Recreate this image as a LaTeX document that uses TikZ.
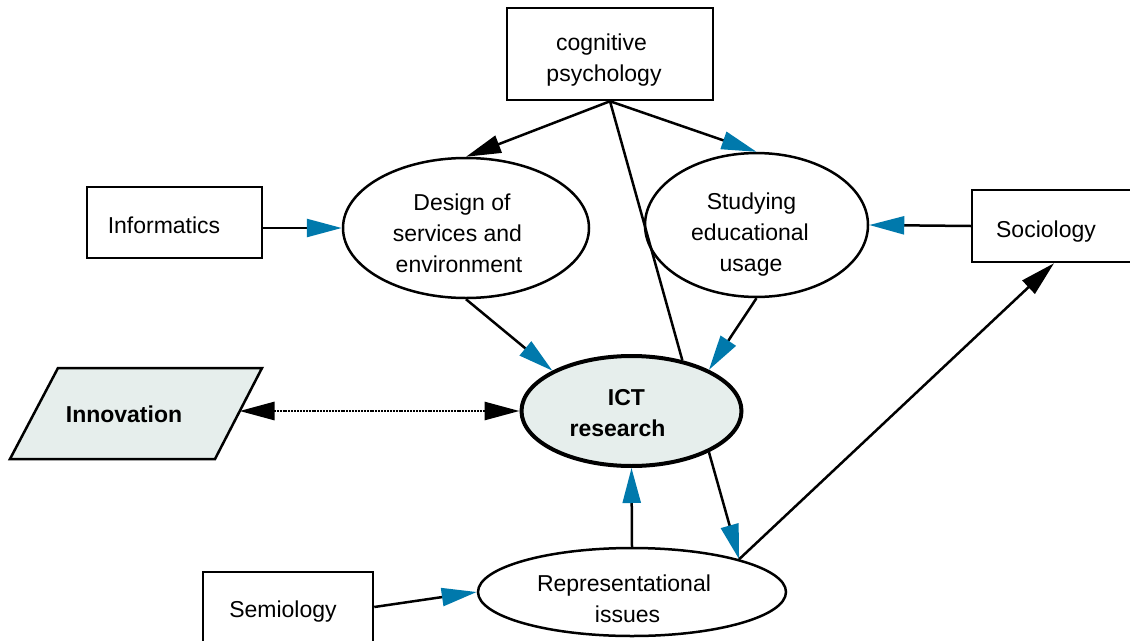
\documentclass[tikz,border=0pt]{standalone}
\usepackage{fontspec}
\setmainfont{Liberation Sans}
\usetikzlibrary{arrows.meta,shapes.geometric}
\definecolor{tipblue}{RGB}{0,121,172}
\definecolor{ictfill}{RGB}{230,238,236}
\newcommand{\lsh}[1]{\hspace*{-#1}}
\newcommand{\vsh}[1]{\rule{0pt}{#1}}
\begin{document}
\begin{tikzpicture}[x=1pt,y=-1pt,
  font=\fontsize{23}{31}\selectfont,
  box/.style={draw,line width=2.5pt,inner sep=0pt},
  ell/.style={draw,ellipse,line width=2.5pt,inner sep=0pt,align=center},
  con/.style={line width=2.5pt},
  bt/.style={con,-{Triangle[length=35pt,width=18pt,color=tipblue]}},
  kt/.style={con,-{Triangle[length=35pt,width=18pt]}},
  dotline/.style={line width=2.8pt,dash pattern=on 2pt off 0.9pt,
    {Triangle[length=35pt,width=18pt]}-{Triangle[length=35pt,width=18pt]}}]
\useasboundingbox (0,0) rectangle (1130,640);

% boxes
\node[box,align=center,minimum width=206pt,minimum height=92pt] (cog) at (610,54)
  {\vsh{28pt}\lsh{17pt}cognitive\\\lsh{12pt}psychology};
\node[box,minimum width=175pt,minimum height=71pt] (info) at (174.5,222.5) {\vsh{23pt}\lsh{21pt}Informatics};
\node[box,minimum width=164pt,minimum height=72pt] (soc) at (1054,226) {\vsh{27pt}Sociology\hspace*{16pt}};
\node[box,minimum width=170pt,minimum height=70pt] (sem) at (288,607) {\vsh{25pt}Semiology\hspace*{10pt}};

% ellipses
\node[ell,minimum width=246pt,minimum height=140pt] (design) at (466,228)
  {\vsh{27pt}\lsh{8pt}Design of\\\lsh{17pt}services and\\\lsh{14pt}environment};
\node[ell,minimum width=223pt,minimum height=140pt] (stud) at (756.5,225)
  {\vsh{35pt}\lsh{10pt}Studying\\\lsh{13pt}educational\\\lsh{11pt}usage};
\node[ell,line width=4pt,fill=ictfill,font=\fontsize{23}{31}\selectfont\bfseries,
      minimum width=220pt,minimum height=110pt] (ict) at (631.5,411)
  {\vsh{21pt}\lsh{10pt}ICT\\\lsh{28pt}research};
\node[ell,minimum width=308pt,minimum height=82pt] (rep) at (632,592)
  {\vsh{31pt}\lsh{16pt}Representational\\\lsh{9pt}issues};

% innovation parallelogram
\draw[line width=2.5pt,fill=ictfill] (58,368) -- (262,368) -- (215,459) -- (10,459) -- cycle;
\node[font=\fontsize{23}{31}\selectfont\bfseries] (innov) at (124,414) {Innovation};
\coordinate (innovE) at (239.5,411);

% connectors
\draw[kt] (cog.south) -- (design.north);
\draw[bt] (cog.south) -- (stud.north);
\draw[con] (cog.south) -- (ict.45);
\draw[bt] (info.east |- design.west) -- (design.west);
\draw[bt] (soc.west) -- (stud.east);
\draw[bt] (design.south) -- (ict.153);
\draw[bt] (stud.south) -- (ict.28);
\draw[dotline] (innovE) -- (ict.west);
\draw[bt] (ict.-28) -- (rep.17);
\draw[bt] (rep.north) -- (ict.south);
\draw[kt] (rep.17) -- (soc.south);
\draw[bt] (sem.east) -- (rep.west);
\end{tikzpicture}
\end{document}
